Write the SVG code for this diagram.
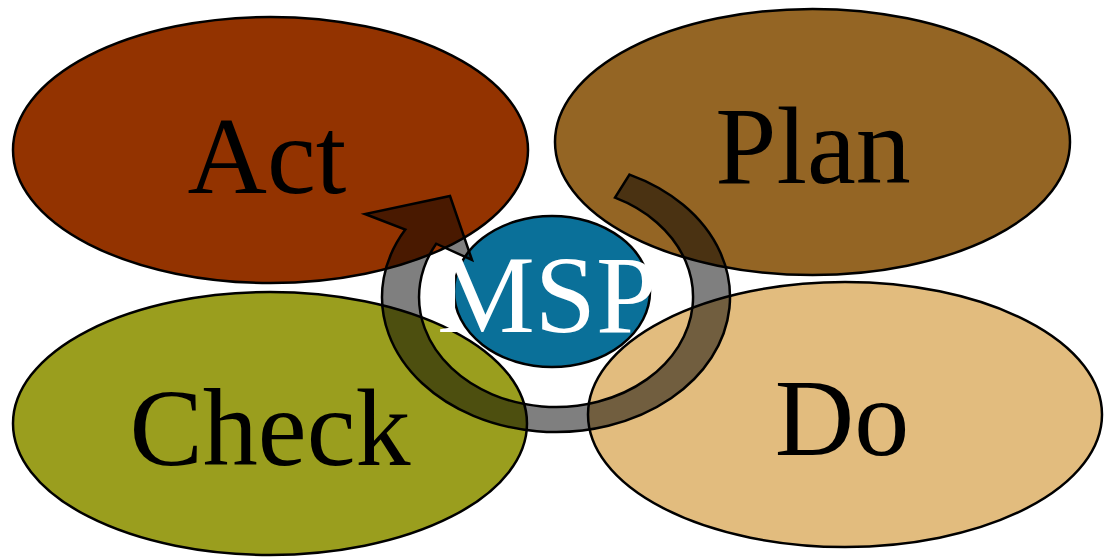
<svg xmlns="http://www.w3.org/2000/svg" width="1105" height="558" viewBox="0 0 1105 558">
  <style>
    .phase { stroke: #000; stroke-width: 2.5; }
    .label { font-family: "Liberation Serif", "Times New Roman", serif; font-size: 110px; text-anchor: middle; fill: #000; }
    .core-label { fill: #fff; }
    .cycle { fill: #000; fill-opacity: 0.5; stroke: #000; stroke-width: 2.5; stroke-linejoin: miter; }
  </style>
  <rect width="1105" height="558" fill="#fff"/>

  <!-- PDCA phases -->
  <g id="act">
    <ellipse class="phase" cx="270.5" cy="150" rx="257.5" ry="133" fill="#933300"/>
  </g>
  <g id="plan">
    <ellipse class="phase" cx="812.5" cy="142" rx="257.5" ry="133" fill="#946524"/>
  </g>
  <g id="check">
    <ellipse class="phase" cx="270" cy="423.5" rx="257" ry="131.5" fill="#9a9e1e"/>
  </g>
  <g id="do">
    <ellipse class="phase" cx="845" cy="414.5" rx="257" ry="132.5" fill="#e2bc7e"/>
  </g>
  <g id="msp">
    <ellipse class="phase" cx="552" cy="291.5" rx="98" ry="75.5" fill="#0a7099"/>
  </g>

  <!-- cycle arrow: Plan -> Do -> Check -> Act -->
  <g id="connectors">
    <path class="cycle" d="M 629.5 174.6 A 174 135 0 1 1 405.3 229.5 L 365 214 L 450 196 L 472 260 L 436.2 243.7 A 137 110 0 1 0 615 197.7 Z"/>
  </g>

  <g id="labels">
    <text class="label" x="267" y="193">Act</text>
    <text class="label" x="813" y="183">Plan</text>
    <text class="label" x="270" y="465">Check</text>
    <text class="label" x="842" y="455">Do</text>
    <text class="label core-label" x="547" y="332">MSP</text>
  </g>
</svg>
